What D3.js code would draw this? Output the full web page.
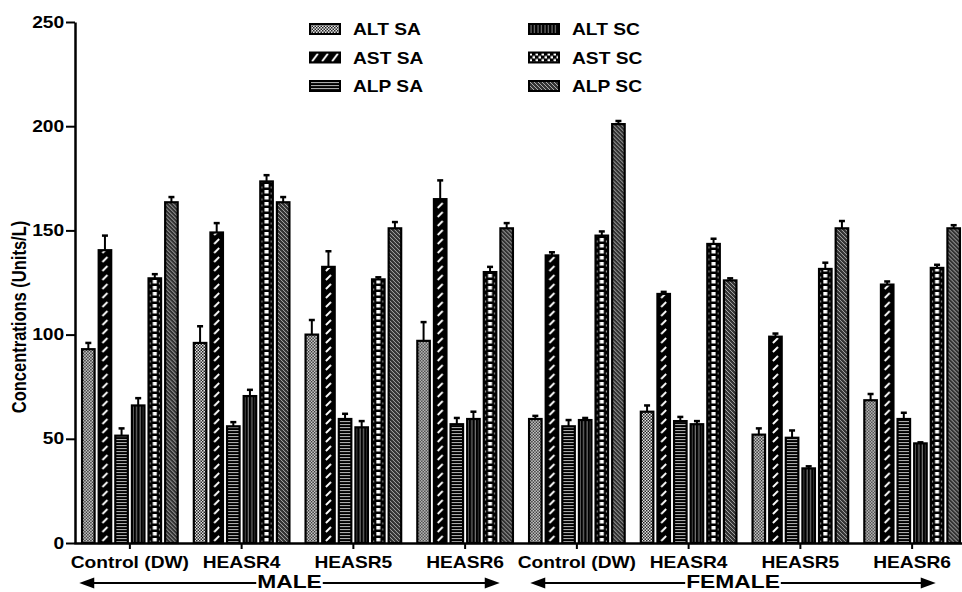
<!DOCTYPE html>
<html>
<head>
<meta charset="utf-8">
<script src="https://cdn.jsdelivr.net/npm/d3@7"></script>
<style>
  body { margin: 0; background: #fff; }
  svg text { font-family: "Liberation Sans", Arial, sans-serif; font-weight: bold; fill: #000; }
</style>
</head>
<body>
<svg></svg>
<script>
const [WIDTH, HEIGHT] = [962, 592]

// data
const groups = ["Control (DW)", "HEASR4", "HEASR5", "HEASR6", "Control (DW)", "HEASR4", "HEASR5", "HEASR6"]
const sexes = ["MALE", "FEMALE"]
const series = ["ALT SA", "AST SA", "ALP SA", "ALT SC", "AST SC", "ALP SC"]
const yTicks = [0, 50, 100, 150, 200, 250]

const altSA    = [93, 96, 100, 97, 59.5, 63, 52, 68.5]
const altSAErr = [3, 8, 7, 9, 1.5, 3, 3, 3]
const astSA    = [140.5, 149, 132.5, 165, 138, 119.5, 99, 124]
const astSAErr = [7, 4.5, 7.5, 9, 1.5, 1, 1.5, 1.5]
const alpSA    = [51.5, 56, 59.5, 57, 56, 58.5, 50.5, 59.5]
const alpSAErr = [3.5, 2, 2.5, 3, 3, 2, 3.5, 3]
const altSC    = [66, 70.5, 55.5, 59.5, 59, 57, 35.8, 47.8]
const altSCErr = [3.5, 3, 3, 3.5, 1, 1.5, 1, 0.5]
const astSC    = [127, 173.5, 126.5, 130, 147.5, 143.5, 131.5, 132]
const astSCErr = [2, 3, 1, 2.5, 2, 2.5, 3, 1.5]
const alpSC    = [163.5, 163.5, 151, 151, 201, 126, 151, 151]
const alpSCErr = [2.5, 2.5, 3, 2.5, 1.5, 1, 3.5, 1.5]

const means = [altSA, astSA, alpSA, altSC, astSC, alpSC]
const errs = [altSAErr, astSAErr, alpSAErr, altSCErr, astSCErr, alpSCErr]

const STRETCH = 1.2   // the original picture is a bit wide

const svg = d3.select("svg")
    .attr('width', WIDTH)
    .attr('height', HEIGHT)
    .attr("viewBox", "0 0 " + WIDTH + " " + HEIGHT)

const y = d3.scaleLinear().domain([0, 250]).range([543, 22])
const x0 = d3.scaleBand().domain(d3.range(groups.length)).range([74, 968])
    .paddingInner(0.13).paddingOuter(0.065)
const x1 = d3.scaleBand().domain(d3.range(series.length)).range([0, x0.bandwidth()])
    .paddingInner(0.15)
const bw = x1.bandwidth()

// fill patterns, one per series
const defs = svg.append('defs')
function pat(id, w, h, bg, draw) {
    const p = defs.append('pattern').attr('id', id)
        .attr('patternUnits', 'userSpaceOnUse')
        .attr('width', w).attr('height', h)
    p.append('rect').attr('width', w).attr('height', h).attr('fill', bg)
    draw(p)
}
pat('p0', 3, 3, '#e4e4e4', p => {
    p.append('rect').attr('x', 0).attr('y', 0).attr('width', 1.5).attr('height', 1.5).attr('fill', '#222')
    p.append('rect').attr('x', 1.5).attr('y', 1.5).attr('width', 1.5).attr('height', 1.5).attr('fill', '#222')
})
pat('p1', bw, 9, '#000', p => {
    p.append('line').attr('x1', bw / 2 - 2.5).attr('y1', 7).attr('x2', bw / 2 + 2.5).attr('y2', 2)
        .attr('stroke', '#fff').attr('stroke-width', 1.8)
})
pat('p1L', 10, 10, '#000', p => {
    p.append('line').attr('x1', 2).attr('y1', 9).attr('x2', 8).attr('y2', 1)
        .attr('stroke', '#fff').attr('stroke-width', 2)
})
pat('p2', 4, 3, '#000', p => {
    p.append('rect').attr('y', 1).attr('width', 4).attr('height', 1.1).attr('fill', '#aaa')
})
pat('p3', 3.5, 4, '#000', p => {
    p.append('rect').attr('x', 1.5).attr('width', 0.9).attr('height', 4).attr('fill', '#999')
})
pat('p4', bw, 6, '#000', p => {
    p.append('rect').attr('x', bw / 2 - 2).attr('y', 1).attr('width', 4).attr('height', 3.5).attr('fill', '#fff')
    p.append('rect').attr('x', 1.5).attr('y', 3.5).attr('width', 1.5).attr('height', 2).attr('fill', '#999')
    p.append('rect').attr('x', bw - 3).attr('y', 3.5).attr('width', 1.5).attr('height', 2).attr('fill', '#999')
})
pat('p4L', 6, 6, '#000', p => {
    p.append('rect').attr('x', 0.5).attr('y', 0.5).attr('width', 2.5).attr('height', 2.5).attr('fill', '#fff')
    p.append('rect').attr('x', 3.5).attr('y', 3.5).attr('width', 2.5).attr('height', 2.5).attr('fill', '#fff')
})
pat('p5', 4, 4, '#333', p => {
    p.append('path').attr('d', 'M0,0L4,4M-1,3L1,5M3,-1L5,1')
        .attr('stroke', '#bbb').attr('stroke-width', 0.9)
})

// bars: each bar sits in its own group so the pattern starts at its corner
const cells = []
groups.forEach((g, gi) => series.forEach((s, si) => {
    cells.push({ gi, si, v: means[si][gi], e: errs[si][gi] })
}))

const bar = svg.append('g').selectAll('g')
    .data(cells)
    .join('g')
    .attr('transform', d => `translate(${x0(d.gi) + x1(d.si)},${y(0)})`)

bar.append('rect')
    .attr('x', 0.8)
    .attr('y', d => y(d.v) - y(0))
    .attr('width', bw - 1.6)
    .attr('height', d => y(0) - y(d.v))
    .attr('fill', d => `url(#p${d.si})`)
    .attr('stroke', '#000')
    .attr('stroke-width', 2.2)

bar.append('line')
    .attr('x1', bw / 2).attr('x2', bw / 2)
    .attr('y1', d => y(d.v) - y(0))
    .attr('y2', d => y(d.v + d.e) - y(0))
    .attr('stroke', '#000').attr('stroke-width', 2)
bar.append('line')
    .attr('x1', bw / 2 - 3).attr('x2', bw / 2 + 3)
    .attr('y1', d => y(d.v + d.e) - y(0))
    .attr('y2', d => y(d.v + d.e) - y(0))
    .attr('stroke', '#000').attr('stroke-width', 2.5)

// axes
const yAxis = svg.append('g')
    .attr('transform', 'translate(75,0)')
    .call(d3.axisLeft(y).tickValues(yTicks).tickSize(9).tickSizeOuter(0).tickPadding(0))
yAxis.select('.domain').attr('stroke-width', 2.5)
yAxis.selectAll('.tick line').attr('stroke-width', 2)
yAxis.selectAll('.tick text')
    .attr('x', -9)
    .attr('transform', `scale(${STRETCH},1)`)
    .style('font-size', '16px')

const xAxis = svg.append('g')
    .attr('transform', `translate(0,${y(0)})`)
    .call(d3.axisBottom(x0).tickFormat(i => groups[i]).tickSize(6).tickSizeOuter(0).tickPadding(8))
xAxis.select('.domain').attr('stroke-width', 2.5)
xAxis.selectAll('.tick line').attr('stroke-width', 2)
xAxis.selectAll('.tick text')
    .attr('transform', `scale(${STRETCH},1)`)
    .style('font-size', '16px')

svg.append('text')
    .attr('transform', `translate(26,317) rotate(-90) scale(1,${STRETCH})`)
    .attr('text-anchor', 'middle')
    .style('font-size', '16.5px')
    .text('Concentrations (Units/L)')

// MALE / FEMALE arrows
const arrowY = 583
const spans = [
    [x0(0) - 2, x0(3) + x0.bandwidth() - 14],
    [x0(4) + 2, x0(7) + x0.bandwidth() - 25]
]
spans.forEach(([a, b], i) => {
    const mid = (a + b) / 2
    const t = svg.append('text')
        .attr('transform', `translate(${mid},${arrowY + 5}) scale(${STRETCH},1)`)
        .attr('text-anchor', 'middle')
        .style('font-size', '19px')
        .text(sexes[i])
    const half = t.node().getComputedTextLength() * STRETCH / 2 + 1
    svg.append('line').attr('x1', a + 10).attr('x2', mid - half)
        .attr('y1', arrowY).attr('y2', arrowY).attr('stroke', '#000').attr('stroke-width', 2)
    svg.append('line').attr('x1', mid + half).attr('x2', b - 10)
        .attr('y1', arrowY).attr('y2', arrowY).attr('stroke', '#000').attr('stroke-width', 2)
    svg.append('path').attr('d', `M${a},${arrowY}L${a + 15},${arrowY - 5.5}L${a + 15},${arrowY + 5.5}Z`)
    svg.append('path').attr('d', `M${b},${arrowY}L${b - 15},${arrowY - 5.5}L${b - 15},${arrowY + 5.5}Z`)
})

// legend, two columns of three
const legendPos = series.map((s, i) => ({
    s, i,
    x: i < 3 ? 310 : 529,
    y: [29, 57.5, 86][i % 3]
}))
const legend = svg.append('g').selectAll('g')
    .data(legendPos)
    .join('g')
    .attr('transform', d => `translate(${d.x},${d.y - 5})`)
legend.append('rect')
    .attr('width', 30).attr('height', 10)
    .attr('fill', d => d.i == 1 ? 'url(#p1L)' : d.i == 4 ? 'url(#p4L)' : `url(#p${d.i})`)
    .attr('stroke', '#000').attr('stroke-width', 2)
legend.append('text')
    .attr('transform', `translate(43,11) scale(${STRETCH},1)`)
    .style('font-size', '16px')
    .text(d => d.s)
</script>
</body>
</html>
